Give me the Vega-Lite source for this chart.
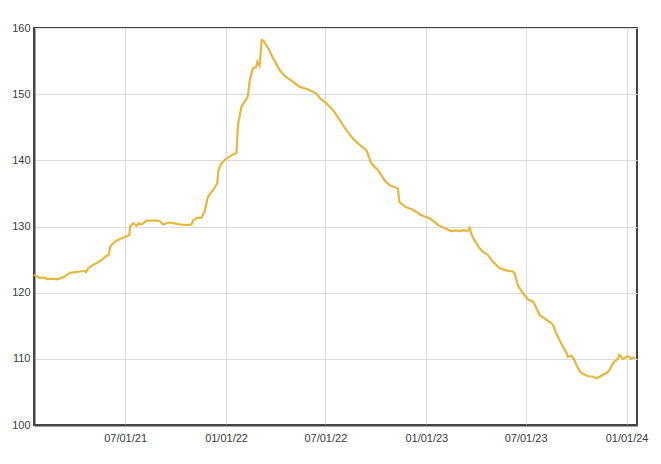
{
  "$schema": "https://vega.github.io/schema/vega-lite/v6.json",
  "width": 603,
  "height": 397,
  "autosize": {"type": "none"},
  "padding": {"left": 34, "top": 28, "right": 24, "bottom": 39},
  "background": "white",
  "data": {
    "values": [
      {"date": "2021-01-16", "value": 122.7},
      {"date": "2021-01-22", "value": 122.4},
      {"date": "2021-01-27", "value": 122.2},
      {"date": "2021-02-03", "value": 122.3},
      {"date": "2021-02-09", "value": 122.05},
      {"date": "2021-02-18", "value": 122.1},
      {"date": "2021-02-27", "value": 122.0},
      {"date": "2021-03-06", "value": 122.2},
      {"date": "2021-03-12", "value": 122.4},
      {"date": "2021-03-17", "value": 122.7},
      {"date": "2021-03-23", "value": 123.0},
      {"date": "2021-04-01", "value": 123.1},
      {"date": "2021-04-10", "value": 123.2},
      {"date": "2021-04-17", "value": 123.3},
      {"date": "2021-04-21", "value": 123.1},
      {"date": "2021-04-25", "value": 123.7},
      {"date": "2021-05-04", "value": 124.2},
      {"date": "2021-05-13", "value": 124.6},
      {"date": "2021-05-20", "value": 125.0},
      {"date": "2021-05-27", "value": 125.5},
      {"date": "2021-06-01", "value": 125.7},
      {"date": "2021-06-04", "value": 126.9},
      {"date": "2021-06-07", "value": 127.3},
      {"date": "2021-06-16", "value": 127.9},
      {"date": "2021-06-24", "value": 128.2},
      {"date": "2021-07-01", "value": 128.4},
      {"date": "2021-07-09", "value": 128.7},
      {"date": "2021-07-10", "value": 130.0},
      {"date": "2021-07-16", "value": 130.5},
      {"date": "2021-07-22", "value": 130.1},
      {"date": "2021-07-26", "value": 130.5},
      {"date": "2021-07-31", "value": 130.3},
      {"date": "2021-08-09", "value": 130.9},
      {"date": "2021-08-19", "value": 130.9},
      {"date": "2021-08-30", "value": 130.9},
      {"date": "2021-09-04", "value": 130.7},
      {"date": "2021-09-08", "value": 130.3},
      {"date": "2021-09-15", "value": 130.5},
      {"date": "2021-09-21", "value": 130.6},
      {"date": "2021-10-03", "value": 130.4},
      {"date": "2021-10-11", "value": 130.3},
      {"date": "2021-10-21", "value": 130.2},
      {"date": "2021-10-30", "value": 130.3},
      {"date": "2021-11-02", "value": 130.9},
      {"date": "2021-11-09", "value": 131.3},
      {"date": "2021-11-17", "value": 131.3},
      {"date": "2021-11-23", "value": 132.3},
      {"date": "2021-11-29", "value": 134.5},
      {"date": "2021-12-08", "value": 135.5},
      {"date": "2021-12-16", "value": 136.5},
      {"date": "2021-12-18", "value": 138.5},
      {"date": "2021-12-24", "value": 139.6},
      {"date": "2022-01-02", "value": 140.3},
      {"date": "2022-01-14", "value": 140.9},
      {"date": "2022-01-20", "value": 141.1},
      {"date": "2022-01-21", "value": 143.0},
      {"date": "2022-01-23", "value": 145.5},
      {"date": "2022-01-29", "value": 148.1},
      {"date": "2022-02-08", "value": 149.4},
      {"date": "2022-02-10", "value": 149.8},
      {"date": "2022-02-13", "value": 152.0},
      {"date": "2022-02-19", "value": 153.9},
      {"date": "2022-02-25", "value": 154.1},
      {"date": "2022-02-27", "value": 154.9},
      {"date": "2022-03-03", "value": 154.3},
      {"date": "2022-03-04", "value": 155.0},
      {"date": "2022-03-07", "value": 158.2},
      {"date": "2022-03-11", "value": 158.0},
      {"date": "2022-03-19", "value": 156.9},
      {"date": "2022-03-28", "value": 155.4},
      {"date": "2022-04-09", "value": 153.6},
      {"date": "2022-04-20", "value": 152.6},
      {"date": "2022-05-03", "value": 151.9},
      {"date": "2022-05-15", "value": 151.1},
      {"date": "2022-05-24", "value": 150.9},
      {"date": "2022-06-03", "value": 150.6},
      {"date": "2022-06-15", "value": 150.1},
      {"date": "2022-06-21", "value": 149.4},
      {"date": "2022-07-03", "value": 148.6},
      {"date": "2022-07-15", "value": 147.6},
      {"date": "2022-07-27", "value": 146.1},
      {"date": "2022-08-08", "value": 144.6},
      {"date": "2022-08-20", "value": 143.3},
      {"date": "2022-09-02", "value": 142.3},
      {"date": "2022-09-14", "value": 141.5},
      {"date": "2022-09-23", "value": 139.5},
      {"date": "2022-10-05", "value": 138.5},
      {"date": "2022-10-17", "value": 137.0},
      {"date": "2022-10-26", "value": 136.25},
      {"date": "2022-11-10", "value": 135.75},
      {"date": "2022-11-13", "value": 133.7},
      {"date": "2022-11-23", "value": 133.0},
      {"date": "2022-12-08", "value": 132.5},
      {"date": "2022-12-23", "value": 131.7},
      {"date": "2023-01-08", "value": 131.2},
      {"date": "2023-01-23", "value": 130.2},
      {"date": "2023-02-10", "value": 129.5},
      {"date": "2023-02-16", "value": 129.3},
      {"date": "2023-02-24", "value": 129.4},
      {"date": "2023-03-03", "value": 129.3},
      {"date": "2023-03-10", "value": 129.45},
      {"date": "2023-03-16", "value": 129.3},
      {"date": "2023-03-20", "value": 129.5},
      {"date": "2023-03-21", "value": 130.0},
      {"date": "2023-03-24", "value": 128.9},
      {"date": "2023-03-30", "value": 127.9},
      {"date": "2023-04-08", "value": 126.7},
      {"date": "2023-04-14", "value": 126.2},
      {"date": "2023-04-23", "value": 125.7},
      {"date": "2023-05-02", "value": 124.7},
      {"date": "2023-05-15", "value": 123.7},
      {"date": "2023-05-30", "value": 123.3},
      {"date": "2023-06-08", "value": 123.2},
      {"date": "2023-06-11", "value": 122.9},
      {"date": "2023-06-17", "value": 121.1},
      {"date": "2023-06-20", "value": 120.65},
      {"date": "2023-06-29", "value": 119.6},
      {"date": "2023-07-05", "value": 119.0},
      {"date": "2023-07-15", "value": 118.6},
      {"date": "2023-07-27", "value": 116.6},
      {"date": "2023-08-08", "value": 115.9},
      {"date": "2023-08-17", "value": 115.4},
      {"date": "2023-08-20", "value": 115.1},
      {"date": "2023-08-26", "value": 113.85},
      {"date": "2023-09-01", "value": 112.8},
      {"date": "2023-09-07", "value": 111.8},
      {"date": "2023-09-13", "value": 111.0},
      {"date": "2023-09-16", "value": 110.3},
      {"date": "2023-09-22", "value": 110.5},
      {"date": "2023-09-28", "value": 109.8},
      {"date": "2023-10-02", "value": 109.0},
      {"date": "2023-10-08", "value": 108.1},
      {"date": "2023-10-14", "value": 107.7},
      {"date": "2023-10-22", "value": 107.4},
      {"date": "2023-11-01", "value": 107.3},
      {"date": "2023-11-07", "value": 107.05},
      {"date": "2023-11-13", "value": 107.3},
      {"date": "2023-11-19", "value": 107.6},
      {"date": "2023-11-26", "value": 107.9},
      {"date": "2023-12-01", "value": 108.3},
      {"date": "2023-12-07", "value": 109.3},
      {"date": "2023-12-10", "value": 109.6},
      {"date": "2023-12-16", "value": 110.0},
      {"date": "2023-12-19", "value": 110.6},
      {"date": "2023-12-25", "value": 110.0},
      {"date": "2023-12-28", "value": 110.1},
      {"date": "2024-01-03", "value": 110.4},
      {"date": "2024-01-06", "value": 110.3},
      {"date": "2024-01-09", "value": 110.0},
      {"date": "2024-01-13", "value": 110.2},
      {"date": "2024-01-16", "value": 110.1}
    ]
  },
  "mark": {"type": "line", "color": "#e6b73c", "strokeWidth": 2.2, "interpolate": "linear"},
  "encoding": {
    "x": {
      "field": "date",
      "type": "temporal",
      "title": null,
      "scale": {
        "type": "utc",
        "domain": [
          {"year": 2021, "month": 1, "date": 16, "utc": true},
          {"year": 2024, "month": 1, "date": 20, "utc": true}
        ]
      },
      "axis": {
        "values": [
          {"year": 2021, "month": 7, "date": 1, "utc": true},
          {"year": 2022, "month": 1, "date": 1, "utc": true},
          {"year": 2022, "month": 7, "date": 1, "utc": true},
          {"year": 2023, "month": 1, "date": 1, "utc": true},
          {"year": 2023, "month": 7, "date": 1, "utc": true},
          {"year": 2024, "month": 1, "date": 1, "utc": true}
        ],
        "format": "%m/%d/%y",
        "labelPadding": 7
      }
    },
    "y": {
      "field": "value",
      "type": "quantitative",
      "title": null,
      "scale": {"domain": [100, 160], "nice": false, "zero": false},
      "axis": {"values": [100, 110, 120, 130, 140, 150, 160], "labelPadding": 4}
    }
  },
  "config": {
    "view": {"stroke": "#454545", "strokeWidth": 2},
    "axis": {
      "grid": true,
      "gridColor": "#dcdcdc",
      "gridWidth": 1,
      "domain": true,
      "domainColor": "#454545",
      "domainWidth": 2,
      "ticks": false,
      "labelFont": "Liberation Sans",
      "labelFontSize": 11,
      "labelColor": "#3a3a3a",
      "labelFlush": false,
      "labelOverlap": false
    }
  }
}
